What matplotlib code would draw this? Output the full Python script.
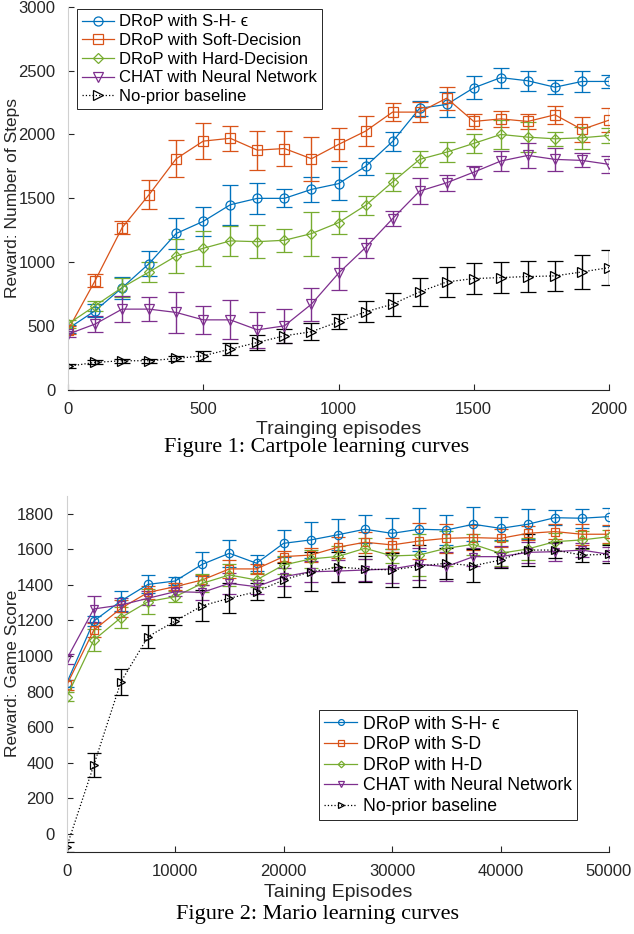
import matplotlib.pyplot as plt

plt.rcParams['font.family'] = ['Liberation Sans', 'DejaVu Sans']

# ---- Figure 1: Cartpole ----
cart_x = [0, 100, 200, 300, 400, 500, 600, 700, 800, 900, 1000,
          1100, 1200, 1300, 1400, 1500, 1600, 1700, 1800, 1900, 2000]
cart_she = [480, 620, 800, 990, 1225, 1320, 1450, 1500, 1500, 1570, 1615,
            1750, 1945, 2205, 2235, 2365, 2445, 2420, 2370, 2415, 2415]
cart_she_err = [30, 50, 85, 100, 125, 115, 155, 120, 70, 100, 130,
                65, 78, 57, 100, 90, 78, 78, 55, 85, 48]
cart_soft = [470, 855, 1270, 1530, 1810, 1948, 1970, 1877, 1890, 1810, 1922,
             2026, 2175, 2175, 2284, 2102, 2122, 2102, 2154, 2039, 2112]
cart_soft_err = [30, 52, 52, 117, 143, 143, 100, 152, 137, 172, 130,
                 117, 73, 78, 91, 57, 62, 57, 70, 100, 94]
cart_hard = [516, 659, 802, 924, 1049, 1109, 1167, 1161, 1172, 1224, 1310,
             1445, 1628, 1805, 1862, 1930, 2000, 1979, 1966, 1974, 1992]
cart_hard_err = [30, 39, 78, 81, 130, 135, 117, 130, 89, 172, 89,
                 73, 73, 62, 76, 73, 110, 117, 55, 85, 60]
cart_chat = [437, 516, 633, 633, 607, 549, 549, 471, 502, 672, 914,
             1115, 1341, 1557, 1622, 1705, 1792, 1836, 1805, 1797, 1766]
cart_chat_err = [25, 62, 100, 91, 159, 110, 152, 143, 133, 130, 130,
                 78, 57, 100, 62, 52, 81, 100, 91, 55, 65]
cart_base = [185, 216, 229, 229, 247, 268, 320, 372, 424, 456, 534,
             612, 672, 768, 846, 872, 880, 888, 893, 924, 958]
cart_base_err = [15, 15, 15, 15, 20, 39, 49, 61, 57, 65, 58,
                 83, 91, 109, 120, 120, 122, 122, 120, 130, 135]
cart_labels = ['DRoP with S-H- \u03f5', 'DRoP with Soft-Decision',
               'DRoP with Hard-Decision', 'CHAT with Neural Network',
               'No-prior baseline']

# ---- Figure 2: Mario ----
mario_x = [0, 2500, 5000, 7500, 10000, 12500, 15000, 17500, 20000, 22500, 25000,
           27500, 30000, 32500, 35000, 37500, 40000, 42500, 45000, 47500, 50000]
mario_she = [848, 1197, 1310, 1403, 1422, 1516, 1578, 1522, 1634, 1653, 1682,
             1713, 1690, 1713, 1709, 1741, 1718, 1741, 1778, 1775, 1784]
mario_she_err = [20, 30, 56, 50, 25, 68, 75, 44, 75, 100, 86,
                 80, 88, 122, 86, 96, 66, 84, 42, 54, 50]
mario_sd = [837, 1146, 1268, 1358, 1390, 1428, 1490, 1490, 1559, 1568, 1612,
            1640, 1625, 1647, 1662, 1666, 1662, 1690, 1700, 1685, 1685]
mario_sd_err = [30, 40, 50, 35, 20, 30, 50, 30, 30, 40, 60,
                60, 40, 100, 80, 70, 50, 40, 40, 60, 50]
mario_hd = [771, 1090, 1216, 1306, 1334, 1409, 1456, 1428, 1512, 1546, 1560,
            1606, 1563, 1568, 1606, 1628, 1578, 1602, 1643, 1653, 1671]
mario_hd_err = [25, 60, 60, 70, 30, 50, 60, 40, 50, 50, 60,
                60, 40, 120, 100, 60, 70, 60, 50, 50, 40]
mario_chat = [983, 1265, 1287, 1325, 1362, 1358, 1409, 1390, 1446, 1474, 1478,
              1484, 1490, 1516, 1503, 1559, 1559, 1583, 1587, 1596, 1572]
mario_chat_err = [30, 75, 40, 40, 25, 40, 60, 40, 50, 60, 60,
                  60, 80, 90, 80, 50, 60, 60, 50, 40, 40]
mario_base = [-73, 387, 855, 1109, 1197, 1283, 1325, 1362, 1428, 1474, 1500,
              1490, 1484, 1506, 1522, 1508, 1540, 1596, 1596, 1568, 1572]
mario_base_err = [30, 68, 75, 66, 25, 87, 84, 47, 98, 109, 86,
                  72, 96, 117, 86, 94, 47, 90, 47, 41, 51]
mario_labels = ['DRoP with S-H- \u03f5', 'DRoP with S-D', 'DRoP with H-D',
                'CHAT with Neural Network', 'No-prior baseline']

colors = ['#0072BD', '#D95319', '#77AC30', '#7E2F8E', 'black']
markers = ['o', 's', 'D', 'v', '>']
styles = ['-', '-', '-', '-', ':']


def rysuj(ax, x, serie, bledy, etykiety, ms, cap, fs_tick, fs_lab, xlabel, ylabel):
    linie = []
    for y, e, c, m, ls, lab in zip(serie, bledy, colors, markers, styles, etykiety):
        size = ms * 0.8 if m == 'D' else ms
        cont = ax.errorbar(x, y, yerr=e, color=c, marker=m, ms=size, mfc='none', mew=0.9,
                           ls=ls, lw=0.9, elinewidth=1.0, capsize=cap, capthick=1.0)
        cont[0].set_label(lab)
        linie.append(cont[0])
    ax.spines['top'].set_visible(False)
    ax.spines['right'].set_visible(False)
    ax.spines['left'].set_color('#d0d0d0')
    ax.spines['bottom'].set_color('#262626')
    ax.tick_params(direction='in', length=4, width=0.8, colors='#262626',
                   labelsize=fs_tick, labelcolor='#262626', pad=9)
    ax.set_xlabel(xlabel, fontsize=14, color='#262626')
    ax.set_ylabel(ylabel, fontsize=fs_lab, color='#262626')
    return linie


fig = plt.figure(figsize=(6.34, 9.34), dpi=100)

ax1 = fig.add_axes([68 / 634, 1 - 390 / 934, 541 / 634, 383.3 / 934])
h1 = rysuj(ax1, cart_x,
           [cart_she, cart_soft, cart_hard, cart_chat, cart_base],
           [cart_she_err, cart_soft_err, cart_hard_err, cart_chat_err, cart_base_err],
           cart_labels, 6.5, 6, 12, 12.5, 'Trainging episodes', 'Reward: Number of Steps')
ax1.set_xlim(0, 2000)
ax1.set_ylim(0, 3000)
ax1.set_xticks([0, 500, 1000, 1500, 2000])
ax1.set_yticks([0, 500, 1000, 1500, 2000, 2500, 3000])
ax1.xaxis.set_label_coords(0.5, -0.08)
ax1.yaxis.set_label_coords(-0.089, 0.5)
leg1 = ax1.legend(handles=h1, loc='upper left', bbox_to_anchor=(0.017, 0.993), borderaxespad=0,
                  fontsize=12, handlelength=1.9, labelspacing=0.22, handletextpad=0.3,
                  borderpad=0.3, fancybox=False, framealpha=1)
leg1.get_frame().set_edgecolor('#262626')
leg1.get_frame().set_linewidth(0.7)

ax2 = fig.add_axes([66.7 / 634, 1 - 851.7 / 934, 542.3 / 634, 355.7 / 934])
h2 = rysuj(ax2, mario_x,
           [mario_she, mario_sd, mario_hd, mario_chat, mario_base],
           [mario_she_err, mario_sd_err, mario_hd_err, mario_chat_err, mario_base_err],
           mario_labels, 6, 5, 12, 12.5, 'Taining Episodes', 'Reward: Game Score')
ax2.set_xlim(0, 50000)
ax2.set_ylim(-100, 1900)
ax2.set_xticks([0, 10000, 20000, 30000, 40000, 50000])
ax2.set_yticks([0, 200, 400, 600, 800, 1000, 1200, 1400, 1600, 1800])
ax2.xaxis.set_label_coords(0.5, -0.092)
ax2.yaxis.set_label_coords(-0.086, 0.5)
leg2 = ax2.legend(handles=h2, loc='lower right', bbox_to_anchor=(0.941, 0.089), borderaxespad=0,
                  fontsize=12.7, handlelength=1.9, labelspacing=0.2, handletextpad=0.3,
                  borderpad=0.3, fancybox=False, framealpha=1, markerscale=0.7)
leg2.get_frame().set_edgecolor('#262626')
leg2.get_frame().set_linewidth(0.7)

fig.text(0.5, 1 - 447 / 934, 'Figure 1: Cartpole learning curves', ha='center', va='center',
         fontsize=16, family='Liberation Serif')
fig.text(0.5, 1 - 915 / 934, 'Figure 2: Mario learning curves', ha='center', va='center',
         fontsize=16, family='Liberation Serif')

fig.savefig('out.png', dpi=100)
